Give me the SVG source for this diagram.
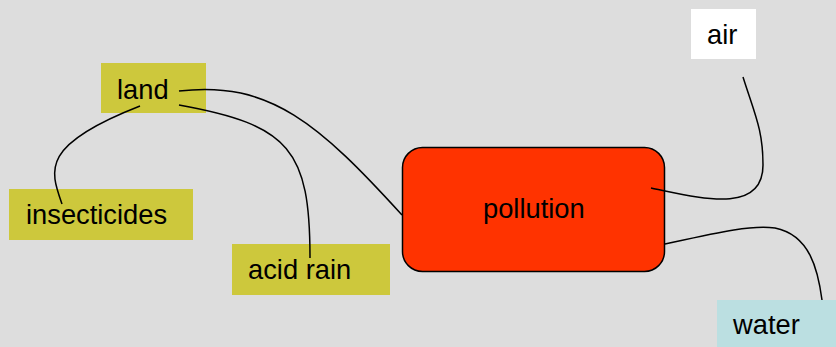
<svg xmlns="http://www.w3.org/2000/svg" width="836" height="347" viewBox="0 0 836 347">
<style>
.bg{fill:#dddddd}
.olive{fill:#cdc83c}
.lbl{font-family:"Liberation Sans",Arial,sans-serif;font-size:27.3px;fill:#000}
.con{fill:none;stroke:#000;stroke-width:1.5}
</style>
<rect class="bg" x="0" y="0" width="836" height="347"/>
<g id="land">
<rect class="olive" x="101" y="63" width="105" height="50"/>
<text class="lbl" x="117" y="99">land</text>
</g>
<g id="insecticides">
<rect class="olive" x="9" y="189" width="184" height="51"/>
<text class="lbl" x="26" y="224">insecticides</text>
</g>
<g id="acid-rain">
<rect class="olive" x="232" y="244" width="158" height="51"/>
<text class="lbl" x="248" y="279">acid rain</text>
</g>
<g id="pollution">
<rect x="402.5" y="147.5" width="262" height="124" rx="20" ry="20" fill="#ff3300" stroke="#000" stroke-width="1.5"/>
<text class="lbl" x="483" y="218">pollution</text>
</g>
<g id="air">
<rect x="691" y="9" width="65" height="50" fill="#ffffff"/>
<text class="lbl" x="707" y="44">air</text>
</g>
<g id="water">
<rect x="717" y="300" width="119" height="47" fill="#bbdfe1"/>
<text class="lbl" x="733" y="334">water</text>
</g>
<g id="connectors">
<path class="con" d="M179,91 C270,80 320,125 402,215"/>
<path class="con" d="M179,105 C290,125 310,150 310,258"/>
<path class="con" d="M140,106 C40,145 50,170 62,204"/>
<path class="con" d="M651,188 C700,198 763,215 763,165 C763,130 755,115 743,77"/>
<path class="con" d="M665,244 C720,232 750,225 775,228 C810,235 818,270 822,300"/>
</g>
</svg>
